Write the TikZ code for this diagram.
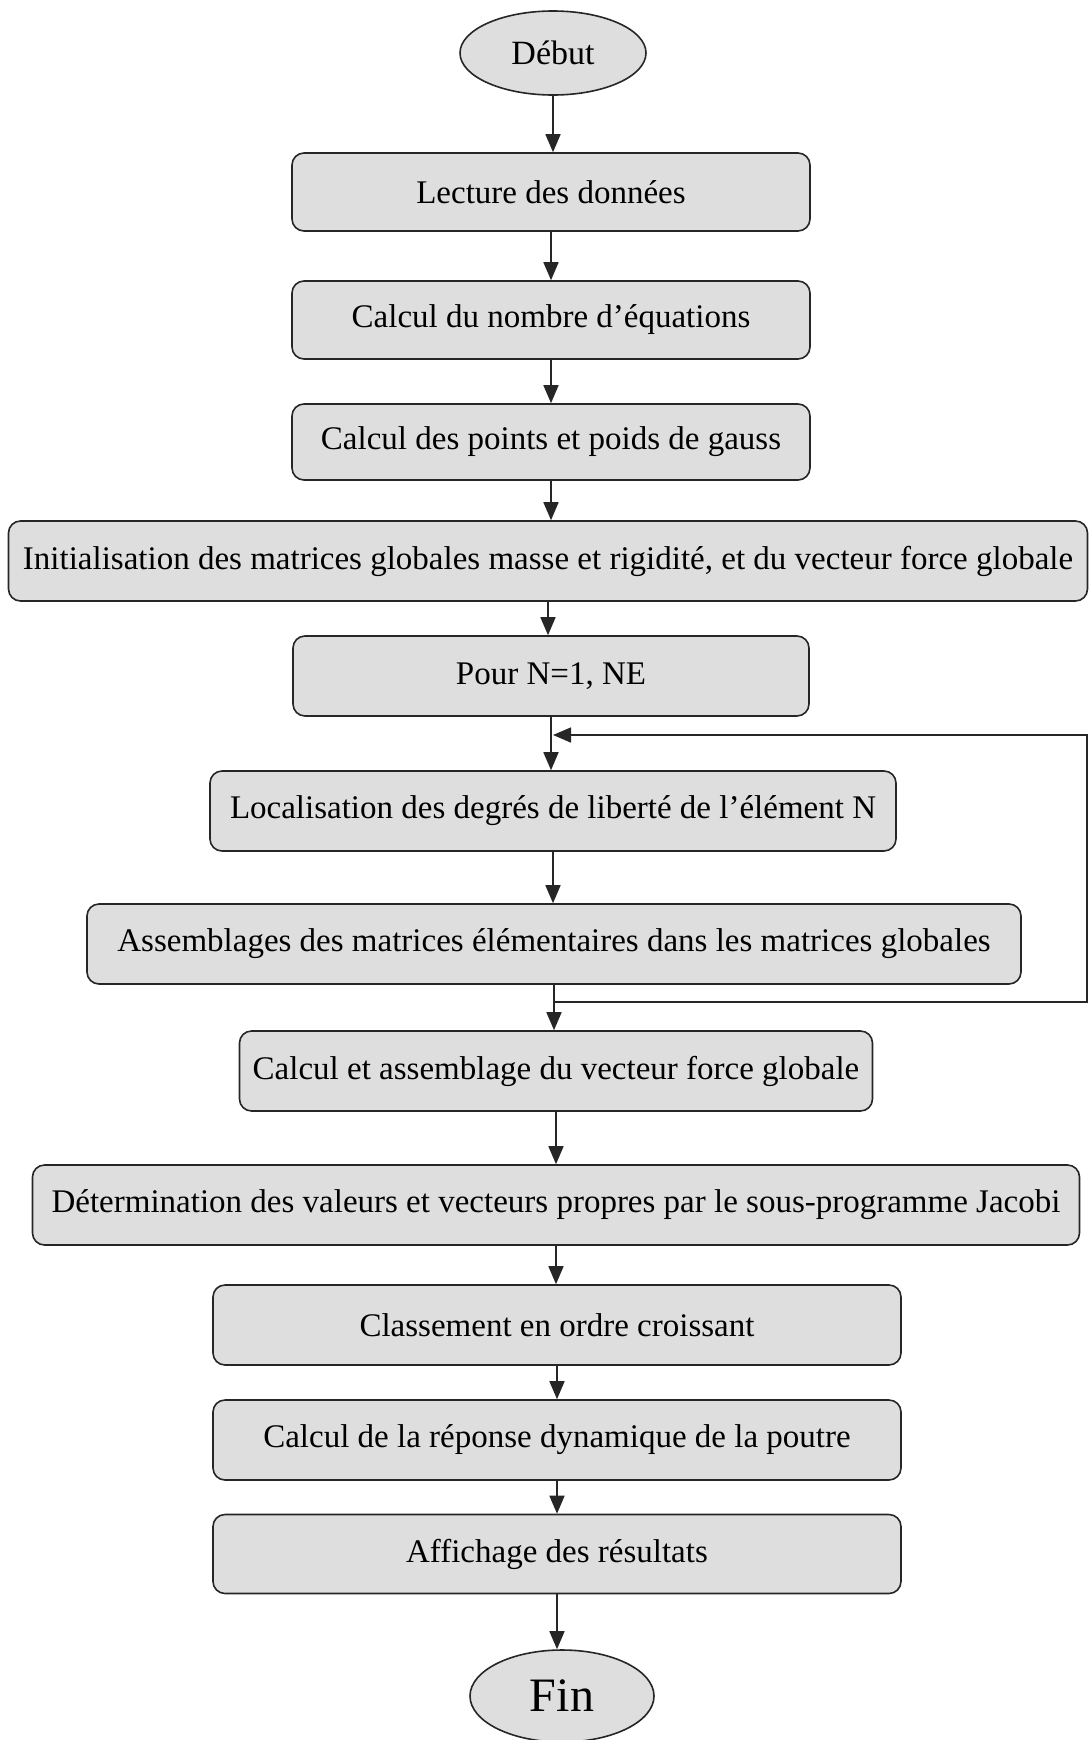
\documentclass[tikz,border=0pt]{standalone}
\usepackage{fontspec}
\setmainfont{Liberation Serif}
\usepackage{tikz}
\usetikzlibrary{shapes,arrows,positioning,calc,arrows.meta}

\begin{document}
\begin{tikzpicture}[x=1pt,y=-1pt,
    box/.style={draw=black!85,line width=1.6pt,fill=black!13,rounded corners=12pt,
        minimum height=78pt,inner sep=0pt,font=\fontsize{33}{38}\selectfont},
    term/.style={draw=black!85,line width=1.6pt,fill=black!13,ellipse,inner sep=0pt},
    flow/.style={line width=1.6pt,draw=black!85,-{Triangle[length=18pt,width=15pt]}}]
    \useasboundingbox (0,0) rectangle (1089,1740);

    % Start
    \node[term,minimum width=186pt,minimum height=84pt,font=\fontsize{34}{40}\selectfont] (debut) at (553,53) {Début};

    % Steps
    \node[box,minimum width=518pt] (lecture) at (551,192) {Lecture des données};
    \node[box,minimum width=518pt] (nombre) at (551,320) {Calcul du nombre d’équations};
    \node[box,minimum width=518pt,minimum height=76pt] (gauss) at (551,442) {Calcul des points et poids de gauss};
    \node[box,minimum width=1079pt,minimum height=80pt] (init) at (548,561) {Initialisation des matrices globales masse et rigidité, et du vecteur force globale};
    \node[box,minimum width=516pt,minimum height=80pt] (pour) at (551,676) {Pour N=1, NE};

    % Loop over elements
    \node[box,minimum width=686pt,minimum height=80pt] (local) at (553,811) {Localisation des degrés de liberté de l’élément N};
    \node[box,minimum width=934pt,minimum height=80pt] (assemb) at (554,944) {Assemblages des matrices élémentaires dans les matrices globales};
    \coordinate (loopin) at (553,735);
    \coordinate (loopout) at (553,1002);
    \coordinate (loopright) at (1087,1002);

    % After the loop
    \node[box,minimum width=633pt,minimum height=80pt] (force) at (556,1071) {Calcul et assemblage du vecteur force globale};
    \node[box,minimum width=1047pt,minimum height=80pt] (jacobi) at (556,1205) {Détermination des valeurs et vecteurs propres par le sous-programme Jacobi};
    \node[box,minimum width=688pt,minimum height=80pt] (classement) at (557,1325) {Classement en ordre croissant};
    \node[box,minimum width=688pt,minimum height=80pt] (reponse) at (557,1440) {Calcul de la réponse dynamique de la poutre};
    \node[box,minimum width=688pt,minimum height=79pt] (affichage) at (557,1554) {Affichage des résultats};

    % End
    \node[term,minimum width=184pt,minimum height=92pt,font=\fontsize{48}{54}\selectfont] (fin) at (562,1696) {Fin};

    % Arrows
    \draw[flow] (debut.south) -- (debut.south |- lecture.north);
    \draw[flow] (lecture.south) -- (lecture.south |- nombre.north);
    \draw[flow] (nombre.south) -- (nombre.south |- gauss.north);
    \draw[flow] (gauss.south) -- (gauss.south |- init.north);
    \draw[flow] (init.south) -- (init.south |- pour.north);
    \draw[flow] (pour.south) -- (pour.south |- local.north);
    \draw[flow] (local.south) -- (local.south |- assemb.north);
    \draw[flow] (assemb.south) -- (assemb.south |- force.north);
    \draw[flow] (loopout) -- (loopright) |- (loopin);
    \draw[flow] (force.south) -- (force.south |- jacobi.north);
    \draw[flow] (jacobi.south) -- (jacobi.south |- classement.north);
    \draw[flow] (classement.south) -- (classement.south |- reponse.north);
    \draw[flow] (reponse.south) -- (reponse.south |- affichage.north);
    \draw[flow] (affichage.south) -- (affichage.south |- fin.north);
\end{tikzpicture}
\end{document}
